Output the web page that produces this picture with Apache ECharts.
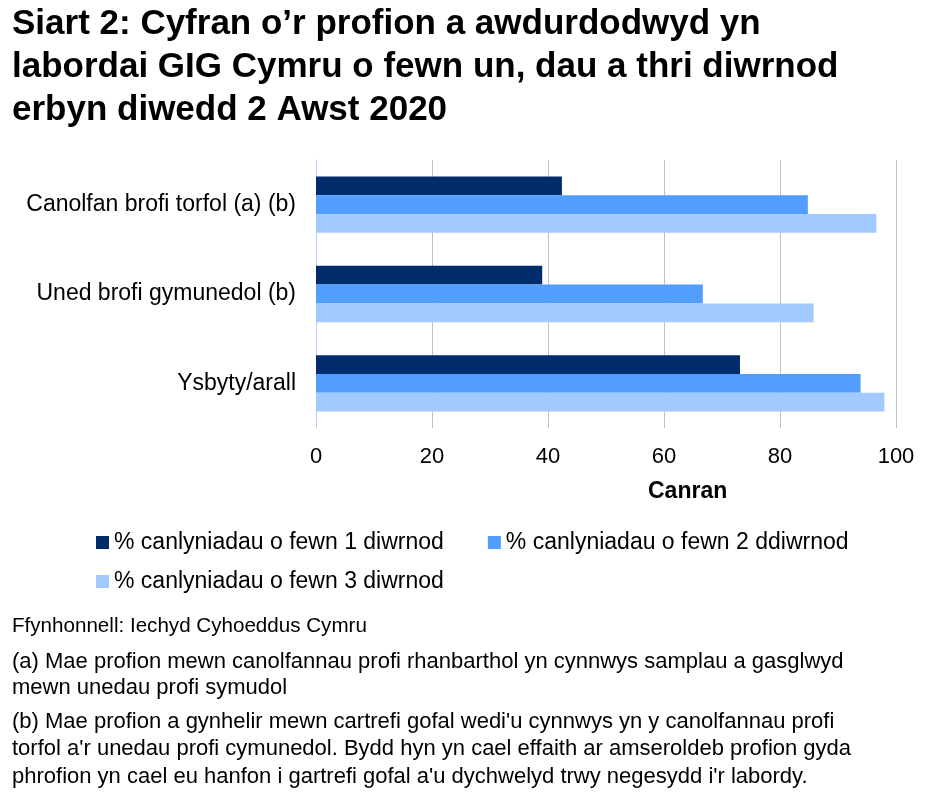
<!DOCTYPE html>
<html><head><meta charset="utf-8">
<script src="https://cdn.jsdelivr.net/npm/echarts@6/dist/echarts.min.js"></script>
<style>html,body{margin:0;padding:0;background:#fff}#c{width:929px;height:806px}</style>
</head><body><div id="c"></div>
<script>
const categories = ['Canolfan brofi torfol (a) (b)', 'Uned brofi gymunedol (b)', 'Ysbyty/arall'];
const seriesNames = ['% canlyniadau o fewn 1 diwrnod', '% canlyniadau o fewn 2 ddiwrnod', '% canlyniadau o fewn 3 diwrnod'];
const day1 = [42.4, 39.0, 73.1];
const day2 = [84.8, 66.7, 93.9];
const day3 = [96.6, 85.8, 98.0];
const xTicks = [0, 20, 40, 60, 80, 100];
const colors = ['#002c6b', '#529eff', '#a3caff'];
const FONT = '"Liberation Sans", Arial, sans-serif';

const chart = echarts.init(document.getElementById('c'), null, {renderer: 'canvas'});
const vals = [day1, day2, day3];
const legendText = {fontFamily: FONT, fontSize: 23, color: '#000'};
chart.setOption({
  animation: false,
  textStyle: {fontFamily: FONT, color: '#000'},
  title: {
    text: 'Siart 2: Cyfran o\u2019r profion a awdurdodwyd yn\nlabordai GIG Cymru o fewn un, dau a thri diwrnod\nerbyn diwedd 2 Awst 2020',
    left: 12, top: 3, padding: 0,
    textStyle: {fontFamily: FONT, fontSize: 35, fontWeight: 'bold', color: '#000', lineHeight: 43}
  },
  grid: {left: 316, top: 160, width: 580, height: 268},
  legend: [
    {left: 91, top: 526, itemWidth: 13, itemHeight: 13, itemGap: 44, icon: 'rect',
     textStyle: legendText, data: seriesNames.slice(0, 2)},
    {left: 91, top: 565, itemWidth: 13, itemHeight: 13, itemGap: 44, icon: 'rect',
     textStyle: legendText, data: seriesNames.slice(2)}
  ],
  xAxis: {
    type: 'value', min: 0, max: 100, interval: 20,
    axisLine: {show: false}, axisTick: {show: false},
    splitLine: {lineStyle: {color: '#c0c0c0', width: 1}},
    axisLabel: {fontFamily: FONT, fontSize: 22, color: '#000', margin: 18,
      formatter: v => xTicks.includes(v) ? String(v) : ''}
  },
  yAxis: {
    type: 'category', data: categories, inverse: true,
    axisLine: {show: true, lineStyle: {color: '#b4cdf0'}}, axisTick: {show: false},
    axisLabel: {fontFamily: FONT, fontSize: 23, color: '#000', margin: 20}
  },
  graphic: [
    {type: 'text', left: 648, top: 480, style: {text: 'Canran', font: 'bold 23px ' + FONT, fill: '#000'}},
    {type: 'text', left: 12, top: 616, style: {text: 'Ffynhonnell: Iechyd Cyhoeddus Cymru', font: '20.6px ' + FONT, fill: '#000'}},
    {type: 'text', left: 12, top: 649, style: {text: '(a) Mae profion mewn canolfannau profi rhanbarthol yn cynnwys samplau a gasglwyd\nmewn unedau profi symudol', font: '22px ' + FONT, fill: '#000', lineHeight: 26}},
    {type: 'text', left: 12, top: 708, style: {text: "(b) Mae profion a gynhelir mewn cartrefi gofal wedi'u cynnwys yn y canolfannau profi\ntorfol a'r unedau profi cymunedol. Bydd hyn yn cael effaith ar amseroldeb profion gyda\nphrofion yn cael eu hanfon i gartrefi gofal a'u dychwelyd trwy negesydd i'r labordy.", font: '22px ' + FONT, fill: '#000', lineHeight: 27.5}}
  ],
  series: seriesNames.map((n, i) => ({
    name: n, type: 'bar', data: vals[i],
    barGap: '0%', barCategoryGap: '37%',
    itemStyle: {color: colors[i]}
  }))
});
</script></body></html>
